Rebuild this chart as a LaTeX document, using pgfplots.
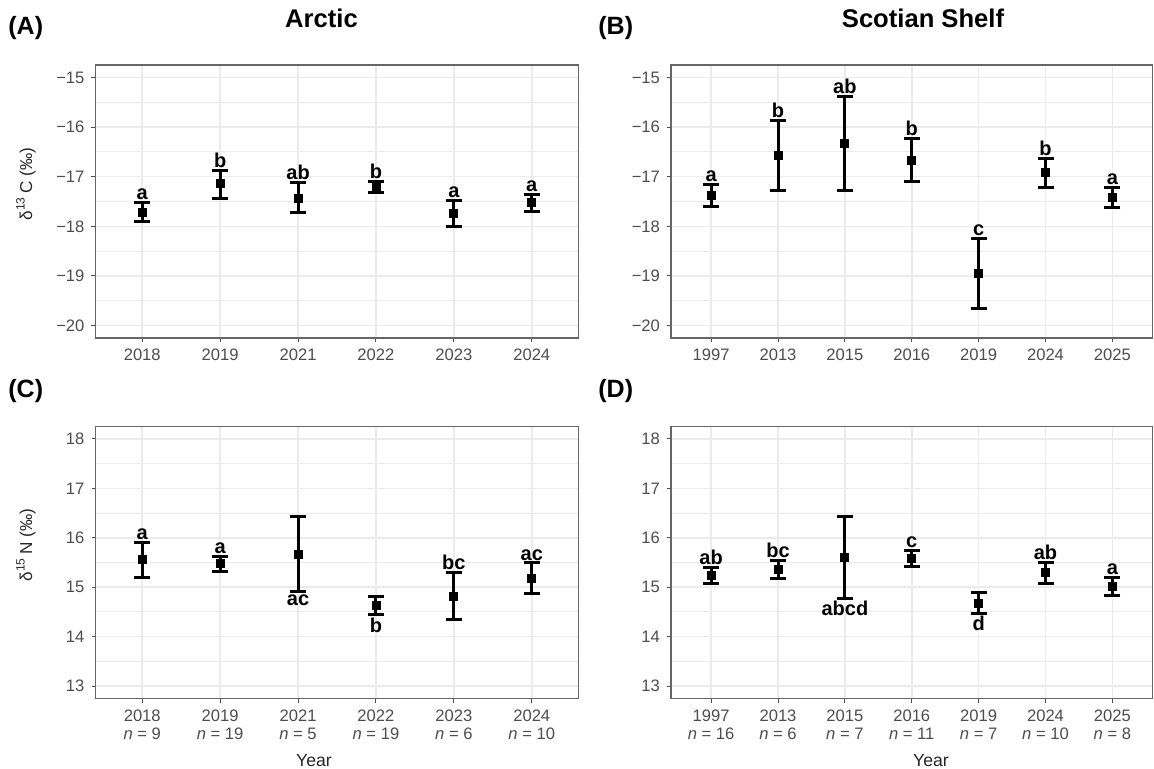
\documentclass[border=0pt]{standalone}
\usepackage{fontspec}
\setmainfont{Liberation Sans}
\usepackage{pgfplots}
\pgfplotsset{compat=1.18}
\definecolor{tickgray}{HTML}{4D4D4D}
\definecolor{gridgray}{HTML}{EBEBEB}
\definecolor{framegray}{HTML}{666666}
\pgfplotsset{
 panel/.style={
  scale only axis, anchor=north west, clip=false,
  axis line style={draw=framegray, line width=0.9pt},
  tick pos=left, tick align=outside,
  major tick length=2pt, minor tick length=0pt,
  tick style={draw=tickgray, line width=0.5pt},
  xmajorgrids, ymajorgrids, yminorgrids, minor y tick num=1,
  major grid style={draw=gridgray, line width=0.8pt},
  minor grid style={draw=gridgray, line width=0.5pt},
  ticklabel style={font=\fontsize{8.3}{9.3}\selectfont, text=tickgray},
  xmin=0.4,
 },
 toppanel/.style={panel, width=241.5pt, height=136.5pt, ymin=-20.25, ymax=-14.75,
  ytick={-20,-19,-18,-17,-16,-15}, yticklabels={−20,−19,−18,−17,−16,−15}},
 botpanel/.style={panel, width=241.5pt, height=136pt, ymin=12.75, ymax=18.25,
  ytick={13,14,15,16,17,18}, yticklabels={13,14,15,16,17,18},
  xticklabel style={align=center}},
 ebar/.style={only marks, mark=square*, mark size=2pt, black,
  error bars/.cd, y dir=both, y explicit, error mark=-,
  error bar style={line width=1.5pt, black},
  error mark options={rotate=90, mark size=4pt, line width=1.5pt, black}},
}
\tikzset{lab/.style={font=\fontsize{10}{10}\selectfont\bfseries, inner sep=1.2pt, text=black}}
\begin{document}
\begin{tikzpicture}
\path[use as bounding box] (0pt,0pt) rectangle (577pt,-384.5pt);

% Panel A
\begin{axis}[toppanel, at={(47.75pt,-32.5pt)}, xmax=6.6, xtick={1,...,6},
  xticklabels={2018,2019,2021,2022,2023,2024}]
\addplot[ebar] table[x=x, y=y, y error plus=ep, y error minus=em] {
x y ep em
1 -17.71 0.19 0.20
2 -17.14 0.27 0.29
3 -17.43 0.31 0.30
4 -17.21 0.11 0.10
5 -17.75 0.27 0.25
6 -17.52 0.17 0.18
};
\node[lab, anchor=south] at (axis cs:1,-17.52) {a};
\node[lab, anchor=south] at (axis cs:2,-16.87) {b};
\node[lab, anchor=south] at (axis cs:3,-17.12) {ab};
\node[lab, anchor=south] at (axis cs:4,-17.10) {b};
\node[lab, anchor=south] at (axis cs:5,-17.48) {a};
\node[lab, anchor=south] at (axis cs:6,-17.35) {a};
\end{axis}

% Panel B
\begin{axis}[toppanel, at={(335.5pt,-32.5pt)}, width=240.75pt, xmax=7.6, xtick={1,...,7},
  xticklabels={1997,2013,2015,2016,2019,2024,2025}]
\addplot[ebar] table[x=x, y=y, y error plus=ep, y error minus=em] {
x y ep em
1 -17.38 0.23 0.22
2 -16.57 0.70 0.70
3 -16.33 0.95 0.94
4 -16.67 0.44 0.43
5 -18.95 0.71 0.70
6 -16.92 0.29 0.29
7 -17.41 0.19 0.21
};
\node[lab, anchor=south] at (axis cs:1,-17.15) {a};
\node[lab, anchor=south] at (axis cs:2,-15.87) {b};
\node[lab, anchor=south] at (axis cs:3,-15.38) {ab};
\node[lab, anchor=south] at (axis cs:4,-16.23) {b};
\node[lab, anchor=south] at (axis cs:5,-18.24) {c};
\node[lab, anchor=south] at (axis cs:6,-16.63) {b};
\node[lab, anchor=south] at (axis cs:7,-17.22) {a};
\end{axis}

% Panel C
\begin{axis}[botpanel, at={(47.75pt,-213.25pt)}, xmax=6.6, xtick={1,...,6},
  xticklabels={2018\\\textit{n} = 9,2019\\\textit{n} = 19,2021\\\textit{n} = 5,2022\\\textit{n} = 19,2023\\\textit{n} = 6,2024\\\textit{n} = 10}]
\addplot[ebar] table[x=x, y=y, y error plus=ep, y error minus=em] {
x y ep em
1 15.56 0.35 0.36
2 15.48 0.15 0.17
3 15.66 0.77 0.75
4 14.64 0.18 0.20
5 14.82 0.47 0.47
6 15.17 0.32 0.29
};
\node[lab, anchor=south] at (axis cs:1,15.91) {a};
\node[lab, anchor=south] at (axis cs:2,15.63) {a};
\node[lab, anchor=north] at (axis cs:3,14.91) {ac};
\node[lab, anchor=north] at (axis cs:4,14.44) {b};
\node[lab, anchor=south] at (axis cs:5,15.29) {bc};
\node[lab, anchor=south] at (axis cs:6,15.49) {ac};
\end{axis}

% Panel D
\begin{axis}[botpanel, at={(335.5pt,-213.25pt)}, width=240.75pt, xmax=7.6, xtick={1,...,7},
  xticklabels={1997\\\textit{n} = 16,2013\\\textit{n} = 6,2015\\\textit{n} = 7,2016\\\textit{n} = 11,2019\\\textit{n} = 7,2024\\\textit{n} = 10,2025\\\textit{n} = 8}]
\addplot[ebar] table[x=x, y=y, y error plus=ep, y error minus=em] {
x y ep em
1 15.24 0.16 0.17
2 15.37 0.18 0.19
3 15.60 0.83 0.82
4 15.59 0.15 0.17
5 14.68 0.22 0.21
6 15.29 0.21 0.21
7 15.02 0.17 0.19
};
\node[lab, anchor=south] at (axis cs:1,15.40) {ab};
\node[lab, anchor=south] at (axis cs:2,15.55) {bc};
\node[lab, anchor=north] at (axis cs:3,14.78) {abcd};
\node[lab, anchor=south] at (axis cs:4,15.74) {c};
\node[lab, anchor=north] at (axis cs:5,14.47) {d};
\node[lab, anchor=south] at (axis cs:6,15.50) {ab};
\node[lab, anchor=south] at (axis cs:7,15.19) {a};
\end{axis}

% titles and labels
\node[anchor=base west, font=\fontsize{12.5}{13}\selectfont\bfseries, inner sep=0pt] at (4pt,-17.5pt) {(A)};
\node[anchor=base west, font=\fontsize{12.5}{13}\selectfont\bfseries, inner sep=0pt] at (299pt,-17.5pt) {(B)};
\node[anchor=base west, font=\fontsize{12.5}{13}\selectfont\bfseries, inner sep=0pt] at (4pt,-198.5pt) {(C)};
\node[anchor=base west, font=\fontsize{12.5}{13}\selectfont\bfseries, inner sep=0pt] at (299pt,-198.5pt) {(D)};
\node[anchor=base, font=\fontsize{12.8}{13}\selectfont\bfseries, inner sep=0pt] at (160.75pt,-14pt) {Arctic};
\node[anchor=base, font=\fontsize{12.8}{13}\selectfont\bfseries, inner sep=0pt] at (461.5pt,-14pt) {Scotian Shelf};
\node[anchor=base, font=\fontsize{8.8}{9}\selectfont, inner sep=0pt, text=black!85] at (157pt,-383pt) {Year};
\node[anchor=base, font=\fontsize{8.8}{9}\selectfont, inner sep=0pt, text=black!85] at (465.5pt,-383pt) {Year};
\node[rotate=90, font=\fontsize{8.6}{9}\selectfont, inner sep=0pt, text=black!85] at (13pt,-92pt) {δ\textsuperscript{13}\,C (‰)};
\node[rotate=90, font=\fontsize{8.6}{9}\selectfont, inner sep=0pt, text=black!85] at (13pt,-272.5pt) {δ\textsuperscript{15}\,N (‰)};
\end{tikzpicture}
\end{document}
